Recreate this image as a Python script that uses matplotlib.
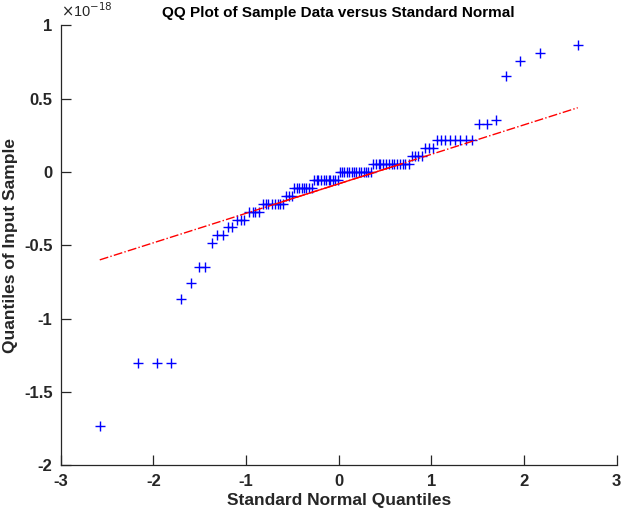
import numpy as np
import matplotlib
matplotlib.use('Agg')
import matplotlib.pyplot as plt
from matplotlib.ticker import FuncFormatter

x_theo = [
    -2.58, -2.17, -1.96, -1.81, -1.70, -1.60, -1.51, -1.44, -1.37, -1.31,
    -1.25, -1.20, -1.15, -1.10, -1.06, -1.02, -0.97, -0.93, -0.90, -0.86,
    -0.82, -0.79, -0.76, -0.72, -0.69, -0.66, -0.63, -0.60, -0.57, -0.54,
    -0.51, -0.48, -0.45, -0.43, -0.40, -0.37, -0.35, -0.32, -0.29, -0.27,
    -0.24, -0.22, -0.19, -0.16, -0.14, -0.11, -0.09, -0.06, -0.04, -0.01,
    0.01, 0.04, 0.06, 0.09, 0.11, 0.14, 0.16, 0.19, 0.22, 0.24,
    0.27, 0.29, 0.32, 0.35, 0.37, 0.40, 0.43, 0.45, 0.48, 0.51,
    0.54, 0.57, 0.60, 0.63, 0.66, 0.69, 0.72, 0.76, 0.79, 0.82,
    0.86, 0.90, 0.93, 0.97, 1.02, 1.06, 1.10, 1.15, 1.20, 1.25,
    1.31, 1.37, 1.44, 1.51, 1.60, 1.70, 1.81, 1.96, 2.17, 2.58,
]

# echantillon trie (en unites de 1e-18)
y_sample = (
    [-1.735] + [-1.301] * 3 + [-0.867, -0.759] + [-0.651] * 2 + [-0.488]
    + [-0.434] * 2 + [-0.379] * 2 + [-0.325] * 3 + [-0.271] * 4
    + [-0.217] * 8 + [-0.163] * 3 + [-0.108] * 8 + [-0.054] * 11
    + [0.0] * 14 + [0.054] * 14 + [0.108] * 4 + [0.163] * 3
    + [0.217] * 8 + [0.325] * 2 + [0.352, 0.651, 0.759, 0.813, 0.867]
)

x = np.array(x_theo)
y = np.array(y_sample)

# droite de reference passant par les quartiles
q1x, q3x = -0.674, 0.674
q1y, q3y = np.percentile(y, 25), np.percentile(y, 75)
pente = (q3y - q1y) / (q3x - q1x)
def droite(v):
    return q1y + pente * (v - q1x)

plt.rcParams['font.family'] = ['Liberation Sans', 'DejaVu Sans']
plt.rcParams['axes.unicode_minus'] = False
gris = '#262626'

fig = plt.figure(figsize=(6.21, 5.14), dpi=100)
ax = fig.add_axes([0.098, 0.095, 0.895, 0.856])

ax.plot(x, y, '+', color='b', markersize=7, markeredgewidth=1.0)
ax.plot([x.min(), x.max()], [droite(x.min()), droite(x.max())],
        color='r', linestyle='-.', linewidth=1)
ax.plot([q1x, q3x], [droite(q1x), droite(q3x)], color='r', linestyle='-', linewidth=1)

ax.set_xlim(-3, 3)
ax.set_ylim(-2, 1)
ax.set_xticks(range(-3, 4))
ax.set_yticks([-2, -1.5, -1, -0.5, 0, 0.5, 1])
ax.yaxis.set_major_formatter(FuncFormatter(lambda v, p: '%g' % v))

for s in ['top', 'right']:
    ax.spines[s].set_visible(False)
for s in ['left', 'bottom']:
    ax.spines[s].set_color(gris)
    ax.spines[s].set_linewidth(0.9)
ax.tick_params(direction='in', length=7, width=0.9, color=gris, labelcolor=gris,
               labelsize=12)
ax.tick_params(axis='x', pad=6)
ax.tick_params(axis='y', pad=6)
for lab in ax.get_xticklabels() + ax.get_yticklabels():
    lab.set_fontweight('bold')

ax.text(0.0, 1.012, r'$\times$10$^{-18}$', transform=ax.transAxes, fontsize=10.5,
        color=gris, ha='left', va='bottom')

ax.set_title('QQ Plot of Sample Data versus Standard Normal', fontsize=11,
             fontweight='bold', color='black', pad=6)
ax.set_xlabel('Standard Normal Quantiles', fontsize=12.5, fontweight='bold', color=gris, labelpad=3)
ax.set_ylabel('Quantiles of Input Sample', fontsize=12.5, fontweight='bold', color=gris, labelpad=4)

plt.savefig('out.png', dpi=100)
